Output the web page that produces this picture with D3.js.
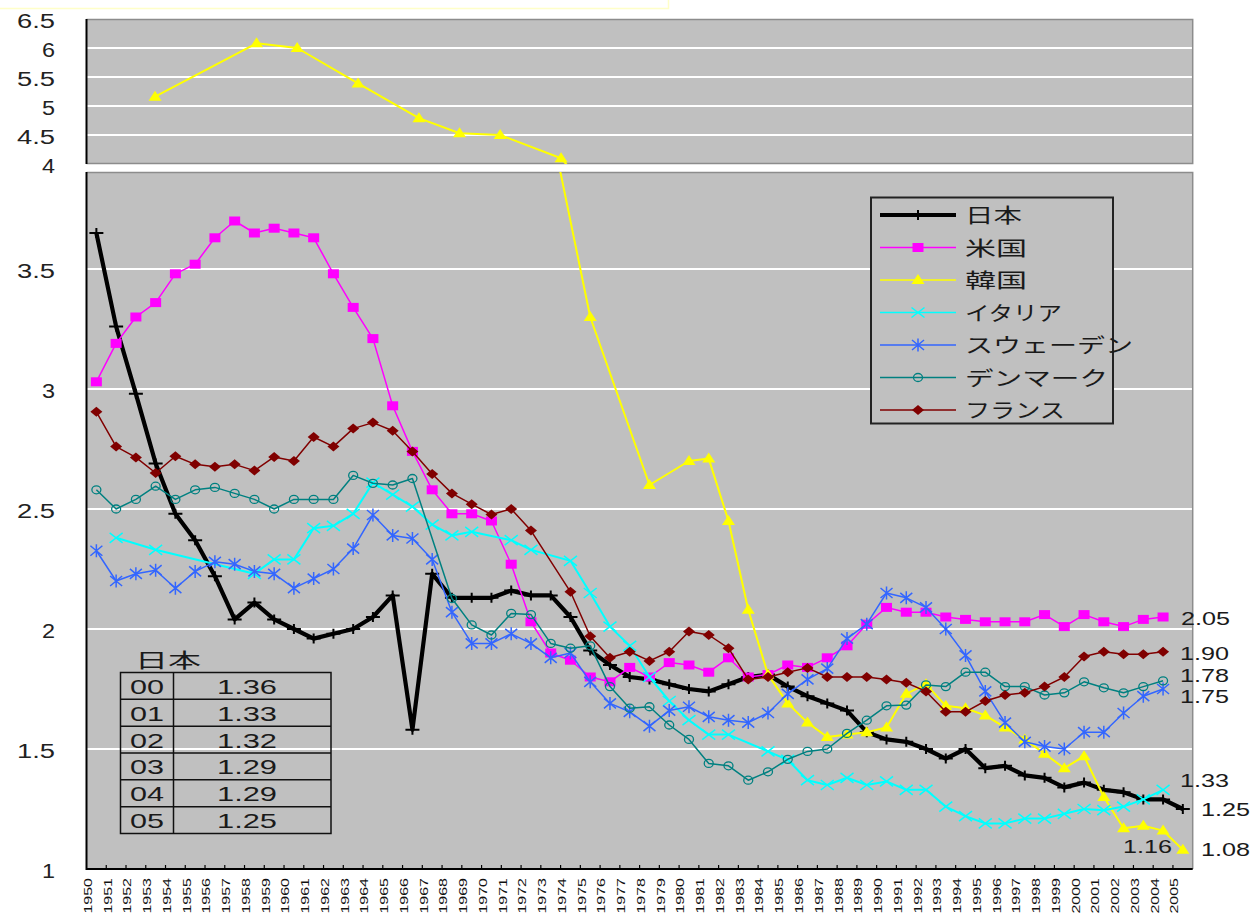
<!DOCTYPE html>
<html><head><meta charset="utf-8">
<script src="https://cdnjs.cloudflare.com/ajax/libs/d3/7.8.5/d3.min.js"></script>
<style>body{margin:0;background:#fff;} svg{display:block;}</style>
</head><body>
<svg id="c" width="1255" height="922"></svg>
<script>
const years = d3.range(1950, 2006);
const japan = [3.65,3.26,2.98,2.69,2.48,2.37,2.22,2.04,2.11,2.04,2.00,1.96,1.98,2.00,2.05,2.14,1.58,2.23,2.13,2.13,2.13,2.16,2.14,2.14,2.05,1.91,1.85,1.80,1.79,1.77,1.75,1.74,1.77,1.80,1.81,1.76,1.72,1.69,1.66,1.57,1.54,1.53,1.50,1.46,1.50,1.42,1.43,1.39,1.38,1.34,1.36,1.33,1.32,1.29,1.29,1.25];
const usa = [3.03,3.19,3.30,3.36,3.48,3.52,3.63,3.70,3.65,3.67,3.65,3.63,3.48,3.34,3.21,2.93,2.74,2.58,2.48,2.48,2.45,2.27,2.03,1.90,1.87,1.80,1.78,1.84,1.80,1.86,1.85,1.82,1.88,1.80,1.81,1.85,1.84,1.88,1.93,2.02,2.09,2.07,2.07,2.05,2.04,2.03,2.03,2.03,2.06,2.01,2.06,2.03,2.01,2.04,2.05,null];
const korea = [null,null,null,5.16,null,null,null,null,6.08,null,6.00,null,null,5.39,null,null,4.79,null,4.53,null,4.50,null,null,4.10,null,3.30,null,null,2.60,null,2.70,2.71,2.45,2.08,1.81,1.69,1.61,1.55,1.56,1.57,1.59,1.73,1.77,1.68,1.67,1.64,1.59,1.54,1.48,1.42,1.47,1.30,1.17,1.18,1.16,1.08];
const italy = [null,2.38,null,2.33,null,null,null,null,2.23,2.29,2.29,2.42,2.43,2.48,2.61,2.56,2.51,2.435,2.39,2.405,null,2.37,2.33,null,2.284,2.15,2.01,1.93,1.80,1.70,1.62,1.56,1.56,null,1.49,1.455,1.37,1.35,1.38,1.35,1.365,1.33,1.33,1.26,1.22,1.19,1.19,1.21,1.21,1.23,1.25,1.245,1.26,1.29,1.33,null];
const sweden = [2.326,2.20,2.23,2.245,2.17,2.24,2.28,2.27,2.24,2.23,2.17,2.21,2.25,2.335,2.475,2.39,2.377,2.29,2.07,1.94,1.94,1.98,1.94,1.88,1.90,1.78,1.69,1.655,1.595,1.66,1.676,1.634,1.62,1.61,1.65,1.73,1.79,1.835,1.96,2.02,2.15,2.13,2.09,2.00,1.89,1.74,1.61,1.53,1.51,1.50,1.57,1.57,1.65,1.72,1.75,null];
const denmark = [2.58,2.50,2.54,2.595,2.54,2.58,2.59,2.565,2.54,2.50,2.54,2.54,2.54,2.64,2.607,2.60,2.627,null,2.127,2.017,1.975,2.065,2.06,1.94,1.92,1.93,1.76,1.67,1.676,1.60,1.54,1.44,1.43,1.37,1.405,1.457,1.49,1.50,1.565,1.62,1.68,1.683,1.767,1.76,1.82,1.82,1.76,1.76,1.725,1.734,1.78,1.755,1.734,1.76,1.784,null];
const france = [2.905,2.76,2.715,2.65,2.72,2.686,2.676,2.686,2.66,2.717,2.70,2.80,2.76,2.835,2.86,2.826,2.74,2.646,2.565,2.52,2.477,2.50,2.41,null,2.155,1.97,1.88,1.905,1.867,1.905,1.99,1.975,1.92,1.79,1.80,1.82,1.838,1.80,1.80,1.80,1.79,1.776,1.74,1.655,1.655,1.70,1.725,1.734,1.76,1.80,1.885,1.905,1.895,1.895,1.905,null];
const seriesNames = ["日本","米国","韓国","イタリア","スウェーデン","デンマーク","フランス"];
const lowerTicks = [1,1.5,2,2.5,3,3.5];
const upperTicks = [4,4.5,5,5.5,6,6.5];
const tableYears = ["00","01","02","03","04","05"];
const tableValues = ["1.36","1.33","1.32","1.29","1.29","1.25"];
const endLabels = [
  {text:"2.05", x:1181, y:618},
  {text:"1.90", x:1180, y:653},
  {text:"1.78", x:1180, y:675},
  {text:"1.75", x:1180, y:696},
  {text:"1.33", x:1180, y:780},
  {text:"1.25", x:1201, y:809},
  {text:"1.08", x:1201, y:849},
  {text:"1.16", x:1123, y:846}
];

const svg = d3.select("#c");
const FONT = "'Liberation Sans', Arial, sans-serif";
const CJK = "'Noto Sans CJK JP', sans-serif";
const L = 86.5, R = 1192.7;

svg.append("path").attr("d","M0,8.5H668.5V0").attr("fill","none").attr("stroke","#ffffc8").attr("stroke-width",1.5);

const xLow = d3.scaleBand().domain(years).range([L, R]);
const xUp = d3.scaleBand().domain(years).range([84, 1220.8]);
const yLow = d3.scaleLinear().domain([1, 1 + 697/240]).range([869, 172]);
const yUp = d3.scaleLinear().domain([4, 6.5]).range([164, 19]);

const defs = svg.append("defs");
defs.append("clipPath").attr("id","clipUp").append("rect").attr("x",L).attr("y",19).attr("width",R-L).attr("height",145);
defs.append("clipPath").attr("id","clipLow").append("rect").attr("x",L).attr("y",172).attr("width",R-L).attr("height",697);

svg.append("rect").attr("x",L).attr("y",19).attr("width",R-L).attr("height",145).attr("fill","#c0c0c0");
svg.append("rect").attr("x",L).attr("y",172).attr("width",R-L).attr("height",697).attr("fill","#c0c0c0");

svg.append("g").selectAll("line").data([4.5,5,5.5,6]).join("line")
  .attr("x1",L).attr("x2",R).attr("y1",d=>yUp(d)).attr("y2",d=>yUp(d))
  .attr("stroke","#fff").attr("stroke-width",2);
svg.append("g").selectAll("line").data([1.5,2,2.5,3,3.5]).join("line")
  .attr("x1",L).attr("x2",R).attr("y1",d=>yLow(d)).attr("y2",d=>yLow(d))
  .attr("stroke","#fff").attr("stroke-width",2);

svg.append("path").attr("d",`M${L},19.5H${R}V163.5H${L}`).attr("fill","none").attr("stroke","#8c8c8c").attr("stroke-width",1.5);
svg.append("path").attr("d",`M${L},172.5H${R}V869`).attr("fill","none").attr("stroke","#8c8c8c").attr("stroke-width",1.5);

const series = [
  {name:seriesNames[0], v:japan, color:"#000000", w:4.2, m:"plus"},
  {name:seriesNames[1], v:usa, color:"#ff00ff", w:1.5, m:"square"},
  {name:seriesNames[2], v:korea, color:"#ffff00", w:2, m:"triangle"},
  {name:seriesNames[3], v:italy, color:"#00ffff", w:2, m:"x"},
  {name:seriesNames[4], v:sweden, color:"#3366ff", w:1.5, m:"asterisk"},
  {name:seriesNames[5], v:denmark, color:"#008080", w:1.5, m:"circle"},
  {name:seriesNames[6], v:france, color:"#800000", w:1.5, m:"diamond"}
];

function marker(g, type, color){
  switch(type){
    case "plus": g.append("path").attr("d","M-7,0H7M0,-5V5").attr("stroke",color).attr("stroke-width",2); break;
    case "square": g.append("rect").attr("x",-5.5).attr("y",-4.5).attr("width",11).attr("height",9).attr("fill",color); break;
    case "triangle": g.append("path").attr("d","M0,-6L6.5,4L-6.5,4Z").attr("fill",color); break;
    case "x": g.append("path").attr("d","M-6.5,-5L6.5,5M-6.5,5L6.5,-5").attr("stroke",color).attr("stroke-width",1.5); break;
    case "asterisk": g.append("path").attr("d","M-6,-5L6,5M-6,5L6,-5M0,-6.5V6.5").attr("stroke",color).attr("stroke-width",1.5); break;
    case "circle": g.append("ellipse").attr("rx",4.5).attr("ry",4).attr("fill","none").attr("stroke",color).attr("stroke-width",1.3); break;
    case "diamond": g.append("path").attr("d","M0,-5L6,0L0,5L-6,0Z").attr("fill",color); break;
  }
}

function drawPanel(x, y, clip){
  const g = svg.append("g").attr("clip-path",`url(#${clip})`);
  const cx = d => x(d.year) + x.bandwidth()/2;
  series.forEach(s => {
    const pts = years.map((yr,i)=>({year:yr, value:s.v[i]})).filter(d=>d.value!==null);
    const line = d3.line().x(cx).y(d=>y(d.value));
    g.append("path").attr("d", line(pts)).attr("fill","none").attr("stroke",s.color)
      .attr("stroke-width",s.w).attr("stroke-linejoin","round");
    pts.forEach(d => {
      const mg = g.append("g").attr("transform",`translate(${cx(d)},${y(d.value)})`);
      marker(mg, s.m, s.color);
    });
  });
}
drawPanel(xLow, yLow, "clipLow");
drawPanel(xUp, yUp, "clipUp");

svg.append("line").attr("x1",L).attr("x2",L).attr("y1",19).attr("y2",164).attr("stroke","#000").attr("stroke-width",2);
svg.append("line").attr("x1",L).attr("x2",L).attr("y1",172).attr("y2",870).attr("stroke","#000").attr("stroke-width",2);
svg.append("line").attr("x1",L).attr("x2",R).attr("y1",869).attr("y2",869).attr("stroke","#000").attr("stroke-width",2);
svg.append("g").selectAll("line").data(years.slice(1)).join("line")
  .attr("x1",d=>xLow(d)).attr("x2",d=>xLow(d)).attr("y1",865).attr("y2",869)
  .attr("stroke","#000").attr("stroke-width",1.2);

function yLabels(ticks, scale){
  svg.append("g").selectAll("text").data(ticks).join("text")
    .attr("x",55).attr("y",d=>scale(d)+9)
    .attr("text-anchor","end").attr("font-family",FONT).attr("font-size",20).attr("fill","#222")
    .attr("textLength",d=>String(d).length===1?13:38).attr("lengthAdjust","spacingAndGlyphs")
    .text(d=>String(d));
}
yLabels(upperTicks, yUp);
yLabels(lowerTicks, yLow);

// x labels (rotated, reading bottom to top)
const xl = svg.append("g");
years.forEach(yr => {
  const gx = xl.append("g").attr("transform", `translate(${xLow(yr)+xLow.bandwidth()/2-4.5},878) rotate(-90) scale(1.6,1)`);
  gx.append("text")
    .attr("text-anchor","end").attr("font-family",FONT).attr("font-size",10).attr("fill","#111")
    .text(yr);
});

// legend
const lg = svg.append("g");
lg.append("rect").attr("x",871).attr("y",197.5).attr("width",242).attr("height",226).attr("fill","#c0c0c0").attr("stroke","#222").attr("stroke-width",2);
const legW = [57,62,62,97,168,143,100];
series.forEach((s,i)=>{
  const yy = 215 + i*32.5;
  lg.append("line").attr("x1",880).attr("x2",956).attr("y1",yy).attr("y2",yy).attr("stroke",s.color).attr("stroke-width",s.w===4.2?4:1.5);
  marker(lg.append("g").attr("transform",`translate(918,${yy})`), s.m, s.color);
  lg.append("text").attr("x",965).attr("y",yy+8).attr("font-family",CJK).attr("font-size",20).attr("fill","#1a1a1a")
    .attr("textLength",legW[i]).attr("lengthAdjust","spacingAndGlyphs").text(s.name);
});

// Japan table
const tg = svg.append("g");
tg.append("text").attr("x",135).attr("y",668).attr("font-family",CJK).attr("font-size",20).attr("fill","#1a1a1a")
  .attr("textLength",66).attr("lengthAdjust","spacingAndGlyphs").text(seriesNames[0]);
const rowY = d3.scaleBand().domain(tableYears).range([672.5, 833.5]);
tg.append("rect").attr("x",120.5).attr("y",672.5).attr("width",210.5).attr("height",161).attr("fill","none").attr("stroke","#111").attr("stroke-width",1.5);
tg.append("line").attr("x1",173.5).attr("x2",173.5).attr("y1",672.5).attr("y2",833.5).attr("stroke","#111").attr("stroke-width",1.5);
tg.selectAll("line.r").data(tableYears.slice(1)).join("line").attr("class","r")
  .attr("x1",120.5).attr("x2",331).attr("y1",d=>rowY(d)).attr("y2",d=>rowY(d)).attr("stroke","#111").attr("stroke-width",1.5);
tableYears.forEach((yr,i)=>{
  const cy = rowY(yr) + rowY.bandwidth()/2;
  tg.append("text").attr("x",130).attr("y",cy+8).attr("font-family",FONT).attr("font-size",21).attr("fill","#1a1a1a")
    .attr("textLength",34).attr("lengthAdjust","spacingAndGlyphs").text(yr);
  tg.append("text").attr("x",217).attr("y",cy+8).attr("font-family",FONT).attr("font-size",21).attr("fill","#1a1a1a")
    .attr("textLength",60).attr("lengthAdjust","spacingAndGlyphs").text(tableValues[i]);
});

// end labels
svg.append("g").selectAll("text").data(endLabels).join("text")
  .attr("x",d=>d.x).attr("y",d=>d.y+7).attr("font-family",FONT).attr("font-size",19).attr("fill","#1a1a1a")
  .attr("textLength",49).attr("lengthAdjust","spacingAndGlyphs").text(d=>d.text);
</script>
</body></html>
